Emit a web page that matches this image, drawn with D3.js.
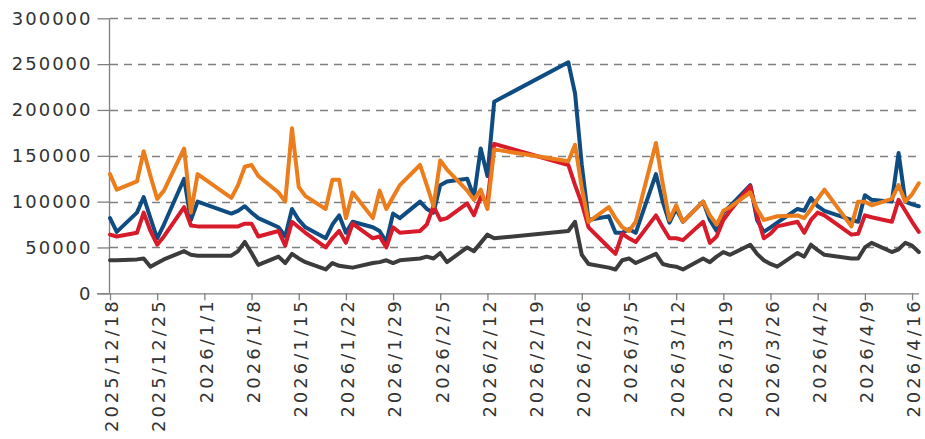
<!DOCTYPE html>
<html><head><meta charset="utf-8">
<script src="https://cdn.jsdelivr.net/npm/d3@7"></script>
<style>html,body{margin:0;padding:0;background:#fff;}svg{display:block;}</style>
</head><body>
<svg id="chart" width="925" height="439"></svg>
<script>
// Trading days
const dates = [
"2025-12-18","2025-12-19","2025-12-22","2025-12-23","2025-12-24","2025-12-25","2025-12-26","2025-12-29","2025-12-30","2025-12-31",
"2026-01-05","2026-01-06","2026-01-07","2026-01-08","2026-01-09",
"2026-01-12","2026-01-13","2026-01-14","2026-01-15","2026-01-16",
"2026-01-19","2026-01-20","2026-01-21","2026-01-22","2026-01-23",
"2026-01-26","2026-01-27","2026-01-28","2026-01-29","2026-01-30",
"2026-02-02","2026-02-03","2026-02-04","2026-02-05","2026-02-06",
"2026-02-09","2026-02-10","2026-02-11","2026-02-12","2026-02-13",
"2026-02-24","2026-02-25","2026-02-26","2026-02-27",
"2026-03-02","2026-03-03","2026-03-04","2026-03-05","2026-03-06",
"2026-03-09","2026-03-10","2026-03-11","2026-03-12","2026-03-13",
"2026-03-16","2026-03-17","2026-03-18","2026-03-19","2026-03-20",
"2026-03-23","2026-03-24","2026-03-25","2026-03-26","2026-03-27",
"2026-03-30","2026-03-31","2026-04-01","2026-04-02","2026-04-03",
"2026-04-07","2026-04-08","2026-04-09","2026-04-10",
"2026-04-13","2026-04-14","2026-04-15","2026-04-16","2026-04-17"
];

const grayValues = [
36000,36000,37000,38000,29000,33000,37000,46000,42000,41000,
41000,46000,56000,44000,31000,
40000,33000,43000,38000,34000,
26000,33000,30000,29000,28000,
33000,34000,36000,33000,36000,
38000,40000,38000,44000,34000,
50000,46000,55000,64000,60000,
68000,78000,42000,32000,
28000,26000,36000,38000,33000,
43000,32000,30000,29000,26000,
38000,34000,40000,45000,42000,
53000,43000,36000,32000,29000,
44000,40000,53000,47000,42000,
38000,38000,50000,55000,
45000,48000,55000,52000,45000
];

const blueValues = [
82000,67000,88000,105000,82000,60000,75000,125000,80000,100000,
87000,90000,95000,88000,82000,
72000,62000,92000,80000,72000,
60000,75000,85000,66000,78000,
72000,68000,56000,87000,82000,
100000,92000,88000,118000,122000,
125000,105000,158000,128000,209000,
252000,218000,140000,80000,
84000,66000,66000,70000,66000,
130000,100000,77000,92000,78000,
100000,80000,68000,88000,95000,
118000,80000,67000,72000,77000,
92000,90000,104000,95000,90000,
80000,78000,107000,102000,
100000,153000,100000,97000,95000
];

const redValues = [
64000,62000,66000,88000,68000,53000,62000,94000,74000,73000,
73000,73000,76000,76000,62000,
68000,52000,78000,72000,66000,
50000,60000,68000,55000,76000,
60000,62000,50000,72000,66000,
68000,75000,95000,80000,82000,
98000,85000,105000,100000,163000,
140000,118000,98000,72000,
50000,43000,65000,60000,56000,
85000,72000,60000,60000,58000,
78000,55000,62000,80000,90000,
117000,85000,60000,65000,73000,
78000,66000,80000,88000,85000,
64000,65000,85000,83000,
78000,102000,90000,78000,67000
];

const orangeValues = [
130000,113000,122000,155000,128000,103000,112000,158000,88000,130000,
104000,118000,138000,140000,128000,
110000,100000,180000,116000,106000,
92000,124000,124000,82000,110000,
82000,112000,92000,105000,118000,
140000,118000,95000,145000,135000,
112000,102000,113000,92000,157000,
144000,162000,115000,78000,
94000,82000,72000,68000,78000,
164000,120000,80000,96000,78000,
100000,85000,75000,90000,94000,
110000,92000,80000,82000,84000,
85000,82000,92000,103000,113000,
73000,100000,100000,96000,
103000,118000,100000,108000,120000
];

const yTickValues = [0,50000,100000,150000,200000,250000,300000];
const xTickLabels = ["2025/12/18","2025/12/25","2026/1/1","2026/1/8","2026/1/15","2026/1/22","2026/1/29",
"2026/2/5","2026/2/12","2026/2/19","2026/2/26","2026/3/5","2026/3/12","2026/3/19","2026/3/26",
"2026/4/2","2026/4/9","2026/4/16"];

const seriesList = [
  {name:"gray", values: grayValues, color:"#3c3c3c"},
  {name:"blue", values: blueValues, color:"#0f4c81"},
  {name:"red", values: redValues, color:"#d81b2a"},
  {name:"orange", values: orangeValues, color:"#ec7d1c"}
];

const parse = d3.utcParse("%Y-%m-%d");
const dateObjs = dates.map(parse);
const tickDates = xTickLabels.map(d3.utcParse("%Y/%m/%d"));

const svg = d3.select("#chart");
const x = d3.scaleUtc().domain([parse("2025-12-18"), parse("2026-04-17")]).range([110, 918.8]);
const y = d3.scaleLinear().domain([0, 300000]).range([293.3, 18.3]);

// gridlines
svg.append("g").selectAll("line").data(yTickValues.filter(v => v > 0)).join("line")
  .attr("x1", 110).attr("x2", 919)
  .attr("y1", d => Math.round(y(d)) + 0.5).attr("y2", d => Math.round(y(d)) + 0.5)
  .attr("stroke", "#808080").attr("stroke-width", 1.3).attr("stroke-dasharray", "8,6");

// y axis
const yAxis = svg.append("g").attr("transform", "translate(109.5,0)")
  .call(d3.axisLeft(y).tickValues(yTickValues).tickSize(12).tickPadding(5).tickFormat(d3.format("d")));
yAxis.select(".domain").remove();
yAxis.selectAll(".tick line").attr("stroke", "#808080").attr("stroke-width", 1.3);
yAxis.selectAll(".tick text").attr("fill", "#333").style("font-family", "DejaVu Sans, sans-serif")
  .style("font-size", "18px").style("letter-spacing", "2px");
svg.append("line").attr("x1", 109.5).attr("x2", 109.5).attr("y1", y(300000)).attr("y2", y(0))
  .attr("stroke", "#808080").attr("stroke-width", 1.3);

// x axis
const xAxis = svg.append("g").attr("transform", `translate(0,${y(0)})`)
  .call(d3.axisBottom(x).tickValues(tickDates).tickSize(7).tickFormat(d3.utcFormat("%Y/%-m/%-d")));
xAxis.select(".domain").attr("d", `M97,0.5H919`).attr("stroke", "#808080").attr("stroke-width", 1.3);
xAxis.selectAll(".tick line").attr("stroke", "#808080").attr("stroke-width", 1.3);
xAxis.selectAll(".tick text")
  .attr("fill", "#333").attr("text-anchor", "end")
  .attr("transform", "translate(1.5,5) rotate(-90)")
  .attr("x", 0).attr("y", 0).attr("dy", "0.35em")
  .style("font-family", "DejaVu Sans, sans-serif").style("font-size", "18px").style("letter-spacing", "3px");

// lines
const line = d3.line().x((d, i) => x(dateObjs[i])).y(d => y(d));
svg.append("g").selectAll("path").data(seriesList).join("path")
  .attr("d", s => line(s.values))
  .attr("fill", "none").attr("stroke", s => s.color).attr("stroke-width", 4)
  .attr("stroke-linejoin", "round").attr("stroke-linecap", "round");
</script>
</body></html>
